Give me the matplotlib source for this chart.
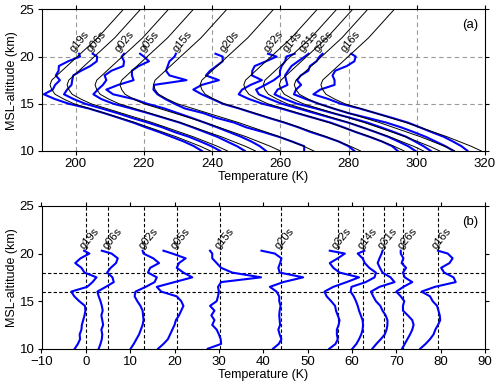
import matplotlib
matplotlib.use("Agg")
import matplotlib.pyplot as plt
import numpy as np

plt.rcParams['font.family'] = ['Liberation Sans', 'DejaVu Sans']

# station names and offsets (K) used to separate the profiles
stations = ['g19s', 'g06s', 'g02s', 'g05s', 'g15s', 'g20s',
            'g32s', 'g14s', 'g31s', 'g26s', 'g16s']
offsets = [0.0, 5.0, 13.2, 20.5, 30.3, 44.0, 56.8, 62.5, 67.2, 71.6, 79.4]

# background temperature (K) of the first profile, 10-25 km
bg_alt = [10, 10.5, 11, 11.5, 12, 12.5, 13, 13.5, 14, 14.5, 15, 15.5, 16, 16.5,
          17, 17.5, 18, 18.5, 19, 19.5, 20, 21, 22, 23, 24, 25]
bg_temp = [239.5, 236.5, 233.0, 229.5, 225.5, 221.5, 217.5, 213.0, 208.5, 204.0,
           199.5, 196.5, 194.0, 193.0, 192.5, 193.0, 194.5, 196.0, 197.5, 199.0,
           200.5, 203.5, 206.5, 209.0, 211.5, 214.0]

# temperature perturbations (K), 10-20.3 km
pert_alt = [10, 10.5, 11, 11.5, 12, 12.5, 13, 13.5, 14, 14.5, 15, 15.5, 16, 16.5,
            17, 17.5, 18, 18.5, 19, 19.5, 20, 20.3]
pert = {
    'g19s': [-2.5, -1.8, -1.3, -1.4, -1.0, -0.9, -0.6, -0.3, -0.1, -0.2, -1.5,
             -2.6, -3.3, 0.3, 1.5, 2.4, -0.3, -1.0, -2.4, -1.2, 0.8, -0.4],
    'g06s': [-2.1, -1.7, -1.4, -1.3, -1.5, -1.1, -1.3, -1.5, -1.2, -1.4, -1.7,
             -2.1, -2.4, -0.5, 1.3, 1.0, -0.2, 0.6, 1.8, 2.2, 0.8, -1.4],
    'g02s': [-3.1, -2.4, -1.8, -1.2, -0.8, -0.4, -0.2, -0.3, -0.4, -0.9, -1.6,
             -2.2, -2.0, 0.3, 2.3, 2.8, 0.8, 1.3, 3.3, 2.0, -0.2, -0.4],
    'g05s': [-4.2, -3.0, -2.0, -1.5, -1.0, -0.5, -0.2, 0.5, 1.0, 1.5, 1.0,
             0.0, -3.5, -4.5, -0.5, 3.5, 1.5, 0.0, 0.5, 2.0, -1.0, -3.0],
    'g15s': [-2.8, 0.2, 0.1, -0.3, -0.8, -1.8, -1.3, -2.0, -1.3, -2.3, -0.8,
             -0.5, -0.3, -0.5, 0.2, 9.2, 2.7, 0.2, -0.8, -1.8, -1.8, -2.3],
    'g20s': [-1.8, -0.5, 0.1, -0.3, -0.6, -0.2, -0.3, -0.4, -0.3, -0.1, -0.4,
             -0.4, -1.0, -2.5, 0.5, 5.0, -0.3, -0.6, -0.2, 0.1, -1.4, -4.4],
    'g32s': [-1.9, -0.5, 0.0, -0.2, -0.2, 0.2, 0.4, 0.0, -0.4, -0.6, -1.5,
             -2.5, -3.0, -1.0, 2.0, 4.8, 0.4, -1.0, -1.8, 0.0, 1.6, -1.8],
    'g14s': [-2.4, -1.5, -0.9, -0.4, -0.1, 0.0, -0.1, -0.5, -0.9, -1.2, -1.6,
             -2.1, -2.8, -2.6, 0.6, 2.6, 2.9, 1.4, 0.4, -0.1, -1.2, 0.3],
    'g31s': [-2.6, -1.7, -0.7, 0.2, 0.6, 0.8, 0.8, 0.4, -0.3, -0.8, -1.8,
             -2.4, -2.9, -1.0, 2.4, 1.5, -0.3, -0.9, -1.4, -1.0, -0.5, -0.3],
    'g26s': [-0.3, 0.3, 0.9, 1.5, 2.0, 2.3, 2.0, 1.0, -0.1, -0.1, 0.2,
             -0.6, -1.6, 0.0, 2.0, 0.3, -0.1, 0.6, -0.4, 0.0, -0.6, -0.6],
    'g16s': [-4.0, -2.8, -1.8, -1.0, -0.6, 0.0, 0.5, 0.4, 0.1, -0.2, -1.2,
             -1.8, -3.7, -0.7, 4.0, 3.5, 1.4, 0.7, 2.6, 3.3, 2.2, 0.0],
}

fig = plt.figure(figsize=(5.0, 3.92), dpi=100)
ax1 = fig.add_axes([0.083, 0.615, 0.887, 0.361])
ax2 = fig.add_axes([0.083, 0.1105, 0.887, 0.364])

blue = '#0000ff'
bg_on_pert = np.interp(pert_alt, bg_alt, bg_temp)

# (a) temperature profiles
for name, off in zip(stations, offsets):
    p = np.array(pert[name])
    ax1.plot(bg_on_pert + p + off, pert_alt, color=blue, lw=1.5, zorder=2)
    ax1.plot(np.array(bg_temp) + off, bg_alt, color='black', lw=0.7, zorder=3)
    ax1.text(200 + off, 20.3, name, rotation=50, rotation_mode='anchor',
             ha='left', va='bottom', fontsize=8, zorder=4)

for x in [200, 220, 240, 260, 280, 300]:
    ax1.axvline(x, color='#999999', lw=0.8, ls=(0, (4, 3)), zorder=1)
for y in [15, 20]:
    ax1.axhline(y, color='#999999', lw=0.8, ls=(0, (4, 3)), zorder=1)

ax1.set_xlim(190, 320)
ax1.set_ylim(10, 25)
ax1.set_xticks([200, 220, 240, 260, 280, 300, 320])
ax1.set_yticks([10, 15, 20, 25])
ax1.set_xlabel('Temperature (K)', fontsize=9, labelpad=1)
ax1.set_ylabel('MSL-altitude (km)', fontsize=9, labelpad=1)
ax1.text(0.985, 0.93, '(a)', transform=ax1.transAxes, ha='right', va='top', fontsize=9.5)

# (b) temperature perturbations
for name, off in zip(stations, offsets):
    p = np.array(pert[name])
    ax2.plot(p + off, pert_alt, color=blue, lw=1.5, zorder=3)
    ax2.axvline(off, color='black', lw=0.8, ls=(0, (3, 2)), zorder=2)
    ax2.text(off, 20.3, name, rotation=50, rotation_mode='anchor',
             ha='left', va='bottom', fontsize=8, zorder=4)
for y in [16, 18]:
    ax2.axhline(y, color='black', lw=0.8, ls=(0, (3, 2)), zorder=2)

ax2.set_xlim(-10, 90)
ax2.set_ylim(10, 25)
ax2.set_xticks(range(-10, 91, 10))
ax2.set_yticks([10, 15, 20, 25])
ax2.set_xlabel('Temperature (K)', fontsize=9, labelpad=1)
ax2.set_ylabel('MSL-altitude (km)', fontsize=9, labelpad=1)
ax2.text(0.985, 0.93, '(b)', transform=ax2.transAxes, ha='right', va='top', fontsize=9.5)

for ax in (ax1, ax2):
    ax.tick_params(direction='out', top=True, right=True, labelsize=9.5,
                   length=3, width=0.8, pad=2)
    for s in ax.spines.values():
        s.set_linewidth(0.8)

fig.savefig('out.png', dpi=100)
